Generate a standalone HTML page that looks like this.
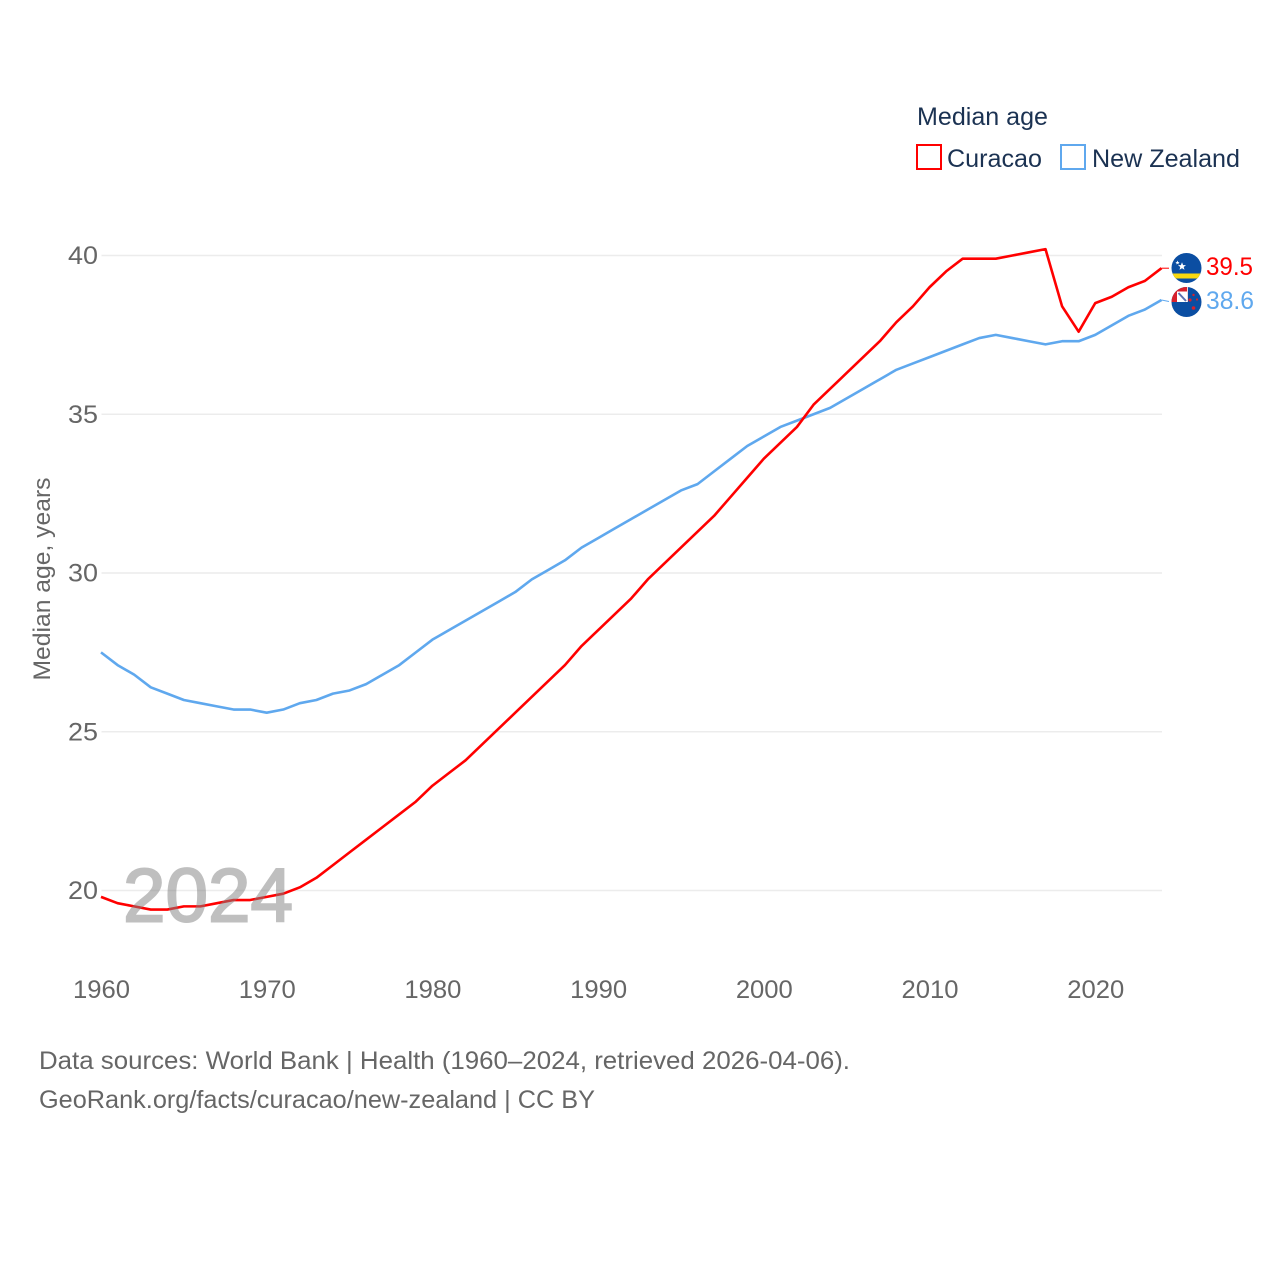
<!DOCTYPE html>
<html lang="en">
<head>
<meta charset="utf-8">
<title>Median age: Curacao and New Zealand</title>
<style>
  html, body { margin: 0; padding: 0; background: #fff; }
  svg { display: block; font-family: "Liberation Sans", sans-serif; }
</style>
</head>
<body>
<svg id="chart" width="1280" height="1280" viewBox="0 0 1280 1280" xmlns="http://www.w3.org/2000/svg">
  <rect width="1280" height="1280" fill="#fff"/>
  <g id="grid"></g>
  <g id="yticks"></g>
  <g id="xticks"></g>
  <text transform="translate(50,579) rotate(-90)" text-anchor="middle" font-size="24" fill="#666" textLength="203" lengthAdjust="spacingAndGlyphs">Median age, years</text>
  <g id="series"></g>
  <text x="123" y="921.5" font-size="76" font-weight="400" fill="#808080" stroke="#808080" stroke-width="2" opacity="0.5" textLength="170" lengthAdjust="spacingAndGlyphs">2024</text>
  <g id="end-labels"></g>

  <clipPath id="clip-cw"><circle cx="1186.5" cy="268" r="15"/></clipPath>
  <clipPath id="clip-nz"><circle cx="1186.5" cy="302" r="15"/></clipPath>
  <clipPath id="clip-uj"><rect x="1171" y="287" width="16" height="15"/></clipPath>

  <g clip-path="url(#clip-cw)">
    <rect x="1171" y="253" width="31" height="30" fill="#0b4ea2"/>
    <rect x="1171" y="273.5" width="31" height="5" fill="#f9d90f"/>
    <polygon points="1182,262.2 1183.1,265.1 1186,265.1 1183.7,267 1184.5,269.8 1182,268.2 1179.5,269.8 1180.3,267 1178,265.1 1180.9,265.1" fill="#fff"/>
    <polygon points="1177.5,260.5 1178.1,262 1179.6,262 1178.4,263 1178.8,264.5 1177.5,263.6 1176.2,264.5 1176.6,263 1175.4,262 1176.9,262" fill="#fff"/>
  </g>
  <g clip-path="url(#clip-nz)">
    <rect x="1171" y="287" width="31" height="30" fill="#0b4ea2"/>
    <g clip-path="url(#clip-uj)">
      <rect x="1171" y="287" width="16" height="15" fill="#d8202c"/>
      <rect x="1177" y="291.5" width="10" height="10.5" fill="#fff"/>
      <path d="M1178.5 293 L1186 301" stroke="#5a6fb0" stroke-width="2"/>
    </g>
    <rect x="1187" y="287" width="1" height="15" fill="#f2d6d6"/>
    <circle cx="1190" cy="300" r="1.6" fill="#d8202c"/>
    <circle cx="1197" cy="299.5" r="1.1" fill="#d8202c"/>
    <circle cx="1193.5" cy="295" r="1.2" fill="#d8202c"/>
    <circle cx="1193.5" cy="308" r="1.8" fill="#d8202c"/>
  </g>

  <g>
    <text x="917" y="125" font-size="25" fill="#1b3252" textLength="131" lengthAdjust="spacingAndGlyphs">Median age</text>
    <g>
      <rect x="917" y="145" width="24" height="24" fill="#fff" stroke="#ff0000" stroke-width="2"/>
      <text x="947" y="167" font-size="25" fill="#1b3252" textLength="95" lengthAdjust="spacingAndGlyphs">Curacao</text>
    </g>
    <g>
      <rect x="1061" y="145" width="24" height="24" fill="#fff" stroke="#5fa8ee" stroke-width="2"/>
      <text x="1092" y="167" font-size="25" fill="#1b3252" textLength="148" lengthAdjust="spacingAndGlyphs">New Zealand</text>
    </g>
  </g>

  <text x="39" y="1069" font-size="25" fill="#666" textLength="811" lengthAdjust="spacingAndGlyphs">Data sources: World Bank | Health (1960–2024, retrieved 2026-04-06).</text>
  <text x="39" y="1108" font-size="25" fill="#666" textLength="556" lengthAdjust="spacingAndGlyphs">GeoRank.org/facts/curacao/new-zealand | CC BY</text>
</svg>
<script>
const years = [1960,1961,1962,1963,1964,1965,1966,1967,1968,1969,1970,1971,1972,1973,1974,1975,1976,1977,1978,1979,1980,1981,1982,1983,1984,1985,1986,1987,1988,1989,1990,1991,1992,1993,1994,1995,1996,1997,1998,1999,2000,2001,2002,2003,2004,2005,2006,2007,2008,2009,2010,2011,2012,2013,2014,2015,2016,2017,2018,2019,2020,2021,2022,2023,2024];
const curacaoValues = [19.8,19.6,19.5,19.4,19.4,19.5,19.5,19.6,19.7,19.7,19.8,19.9,20.1,20.4,20.8,21.2,21.6,22.0,22.4,22.8,23.3,23.7,24.1,24.6,25.1,25.6,26.1,26.6,27.1,27.7,28.2,28.7,29.2,29.8,30.3,30.8,31.3,31.8,32.4,33.0,33.6,34.1,34.6,35.3,35.8,36.3,36.8,37.3,37.9,38.4,39.0,39.5,39.9,39.9,39.9,40.0,40.1,40.2,38.4,37.6,38.5,38.7,39.0,39.2,39.6];
const newZealandValues = [27.5,27.1,26.8,26.4,26.2,26.0,25.9,25.8,25.7,25.7,25.6,25.7,25.9,26.0,26.2,26.3,26.5,26.8,27.1,27.5,27.9,28.2,28.5,28.8,29.1,29.4,29.8,30.1,30.4,30.8,31.1,31.4,31.7,32.0,32.3,32.6,32.8,33.2,33.6,34.0,34.3,34.6,34.8,35.0,35.2,35.5,35.8,36.1,36.4,36.6,36.8,37.0,37.2,37.4,37.5,37.4,37.3,37.2,37.3,37.3,37.5,37.8,38.1,38.3,38.6];
const xTickLabels = [1960,1970,1980,1990,2000,2010,2020];
const yTickLabels = [20,25,30,35,40];
const curacaoEndLabel = "39.5";
const newZealandEndLabel = "38.6";

const NS = "http://www.w3.org/2000/svg";
function xScale(year) { return 101 + (year - 1960) * (1161.5 - 101) / 64; }
function yScale(value) { return 890.5 - (value - 20) * (890.5 - 255.5) / 20; }
function make(tag, parent, attrs, text) {
  const el = document.createElementNS(NS, tag);
  for (const k in attrs) el.setAttribute(k, attrs[k]);
  if (text !== undefined) el.textContent = text;
  parent.appendChild(el);
  return el;
}
const gridGroup = document.getElementById("grid");
const yGroup = document.getElementById("yticks");
const xGroup = document.getElementById("xticks");
const seriesGroup = document.getElementById("series");
const endGroup = document.getElementById("end-labels");

yTickLabels.forEach(function (v) {
  const line = make("line", gridGroup, {x1: 101.5, x2: 1162, y1: yScale(v), y2: yScale(v), stroke: "#ececec", "stroke-width": 1.5});
  
  
  const label = make("text", yGroup, {x: 98, y: yScale(v) + 8.5, "text-anchor": "end", "font-size": 25, fill: "#666", textLength: 30, lengthAdjust: "spacingAndGlyphs"}, String(v));
  
  
});
xTickLabels.forEach(function (y) {
  const label = make("text", xGroup, {x: xScale(y) + 0.5, y: 998, "text-anchor": "middle", "font-size": 25, fill: "#666", textLength: 57, lengthAdjust: "spacingAndGlyphs"}, String(y));
  
  
});

function pathFor(values) {
  return values.map(function (v, i) {
    return (i ? "L" : "M") + xScale(years[i]).toFixed(2) + " " + yScale(v).toFixed(2);
  }).join(" ");
}
const nzLine = make("path", seriesGroup, {d: pathFor(newZealandValues), fill: "none", stroke: "#5fa8ee", "stroke-width": 2.6, "stroke-linejoin": "round"});


const cwLine = make("path", seriesGroup, {d: pathFor(curacaoValues), fill: "none", stroke: "#ff0000", "stroke-width": 2.6, "stroke-linejoin": "round"});



const lastX = xScale(years[years.length - 1]);
const cwEndY = yScale(curacaoValues[curacaoValues.length - 1]);
const nzEndY = yScale(newZealandValues[newZealandValues.length - 1]);
const cwLeader = make("line", endGroup, {x1: lastX, x2: 1169, y1: cwEndY, y2: cwEndY, stroke: "#ff0000", "stroke-width": 1});


const nzLeader = make("line", endGroup, {x1: lastX, x2: 1169, y1: nzEndY, y2: nzEndY + 1.5, stroke: "#5fa8ee", "stroke-width": 1});


const cwValue = make("text", endGroup, {x: 1206, y: 275, "font-size": 25, fill: "#ff0000", textLength: 47, lengthAdjust: "spacingAndGlyphs"}, curacaoEndLabel);


const nzValue = make("text", endGroup, {x: 1206, y: 309, "font-size": 25, fill: "#5fa8ee", textLength: 48, lengthAdjust: "spacingAndGlyphs"}, newZealandEndLabel);


</script>
</body>
</html>
